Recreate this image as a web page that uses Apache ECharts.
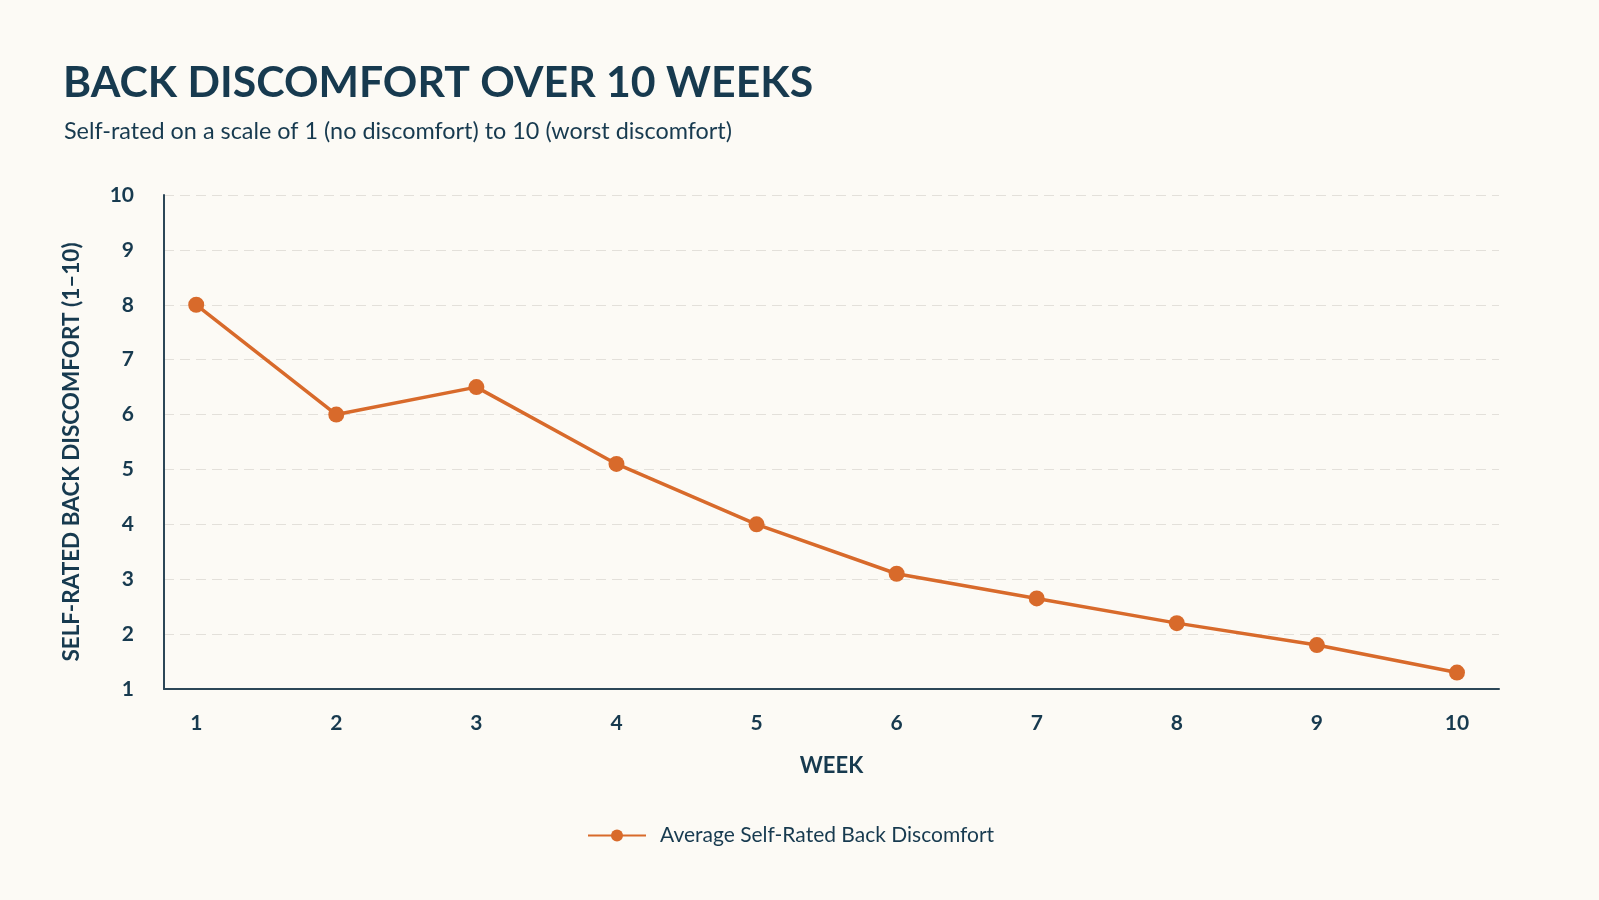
<!DOCTYPE html>
<html>
<head>
<meta charset="utf-8">
<title>Back discomfort over 10 weeks</title>
<script src="https://cdn.jsdelivr.net/npm/echarts@6/dist/echarts.min.js"></script>
<style>
  html, body { margin: 0; padding: 0; background: #fcfaf5; }
  #chart { width: 1599px; height: 900px; }
</style>
</head>
<body>
<div id="chart"></div>
<script>
// data
var weeks = [1, 2, 3, 4, 5, 6, 7, 8, 9, 10];
var discomfort = [8.0, 6.0, 6.5, 5.1, 4.0, 3.1, 2.65, 2.2, 1.8, 1.3];
var yTicks = [1, 2, 3, 4, 5, 6, 7, 8, 9, 10];

var navy = '#173a4f';
var orange = '#d86a2b';

var myChart = echarts.init(document.getElementById('chart'));

var points = weeks.map(function (w, i) { return [w, discomfort[i]]; });

var option = {
    backgroundColor: '#fcfaf5',
    textStyle: { fontFamily: 'Lato' },
    title: [
        {
            text: 'BACK DISCOMFORT OVER 10 WEEKS',
            left: 58,
            top: 57,
            textStyle: { fontSize: 42.8, fontWeight: 'bold', color: navy, fontFamily: 'Lato' }
        },
        {
            text: 'Self-rated on a scale of 1 (no discomfort) to 10 (worst discomfort)',
            left: 59,
            top: 115,
            textStyle: { fontSize: 23.4, fontWeight: 'normal', color: navy, fontFamily: 'Lato' }
        }
    ],
    grid: { left: 164, right: 100, top: 195, bottom: 211, containLabel: false },
    legend: {
        data: ['Average Self-Rated Back Discomfort'],
        left: 582,
        top: 820,
        itemWidth: 58,
        itemHeight: 15,
        textStyle: { fontSize: 21, color: navy, padding: [0, 0, 0, 9] }
    },
    xAxis: {
        type: 'value',
        min: 0.77,
        max: 10.3,
        name: 'WEEK',
        nameLocation: 'middle',
        nameGap: 66,
        nameTextStyle: { fontSize: 22, fontWeight: 'bold', color: navy },
        axisLine: { show: true, lineStyle: { color: '#2c4657', width: 2 } },
        axisTick: { show: false },
        splitLine: { show: false },
        axisLabel: {
            customValues: weeks,
            margin: 24,
            fontSize: 21,
            fontWeight: 'bold',
            color: navy
        }
    },
    yAxis: {
        type: 'value',
        min: 1,
        max: 10,
        interval: 1,
        name: 'SELF-RATED BACK DISCOMFORT (1–10)',
        nameLocation: 'middle',
        nameGap: 81,
        nameTextStyle: { fontSize: 22.5, fontWeight: 'bold', color: navy, padding: [0, 20, 0, 0] },
        axisLine: { show: true, lineStyle: { color: '#2c4657', width: 2 } },
        axisTick: { show: false },
        splitLine: { show: true, lineStyle: { color: '#e3e0da', type: [10, 6], width: 1 } },
        axisLabel: {
            customValues: yTicks,
            margin: 30,
            fontSize: 21,
            fontWeight: 'bold',
            color: navy
        }
    },
    series: [
        {
            name: 'Average Self-Rated Back Discomfort',
            type: 'line',
            data: points,
            symbol: 'circle',
            symbolSize: 16,
            lineStyle: { color: orange, width: 3.5 },
            itemStyle: { color: orange },
            animation: false
        }
    ]
};

myChart.setOption(option);
</script>
</body>
</html>
